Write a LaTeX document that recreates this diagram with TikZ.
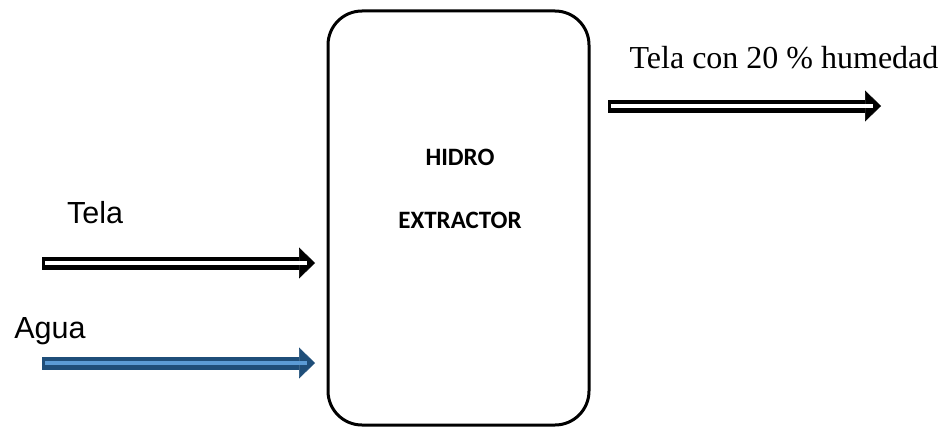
\documentclass[tikz,border=0pt]{standalone}
\usepackage{fontspec}
\usepackage{tikz}
\usetikzlibrary{arrows.meta,positioning}
\newfontfamily\arialf{Liberation Sans}
\newfontfamily\timesf{Liberation Serif}
\newfontfamily\calibrif{Carlito}
\definecolor{aguadark} {RGB}{ 31, 78,121}
\definecolor{agualight}{RGB}{ 91,155,213}

\begin{document}
\begin{tikzpicture}[
    x=1pt, y=-1pt,
    machine/.style={draw, rectangle, rounded corners=34pt, line width=3pt, minimum width=261pt, minimum height=414pt},
    tag/.style={anchor=base, inner sep=0pt, font=\arialf\fontsize{30.5}{36}\selectfont},
    boxtext/.style={anchor=base, inner sep=0pt, font=\calibrif\bfseries\fontsize{25}{30}\selectfont},
    flow/.style 2 args={draw=#1, line width=13pt, -{Triangle[length=16pt, width=31pt, line width=0.5pt]},
        postaction={draw=#2, line width=4pt, -, shorten <=3pt, shorten >=8pt}}
]
    \useasboundingbox (0,0) rectangle (944,428);

    \node[machine] (hidro) at (458.5,218) {};
    \node[boxtext] (hidrotop) at (460,165) {HIDRO};
    \node[boxtext] (hidrobot) at (460,228) {EXTRACTOR};

    \node[tag] (telatag) at (95,223) {Tela};
    \node[tag] (aguatag) at (50,338) {Agua};
    \node[anchor=base, inner sep=0pt, font=\timesf\fontsize{32}{38}\selectfont] (saltag) at (784,68) {Tela con 20 \% humedad};

    \coordinate (telain)  at (42,263);
    \coordinate (telaend) at (315,263);
    \coordinate (aguain)  at (42,363);
    \coordinate (aguaend) at (315,363);
    \coordinate (salin)   at (608,106);
    \coordinate (salend)  at (881,106);

    \draw[flow={black}{white}] (telain) -- (telaend);
    \draw[flow={aguadark}{agualight}] (aguain) -- (aguaend);
    \draw[flow={black}{white}] (salin) -- (salend);
\end{tikzpicture}
\end{document}
